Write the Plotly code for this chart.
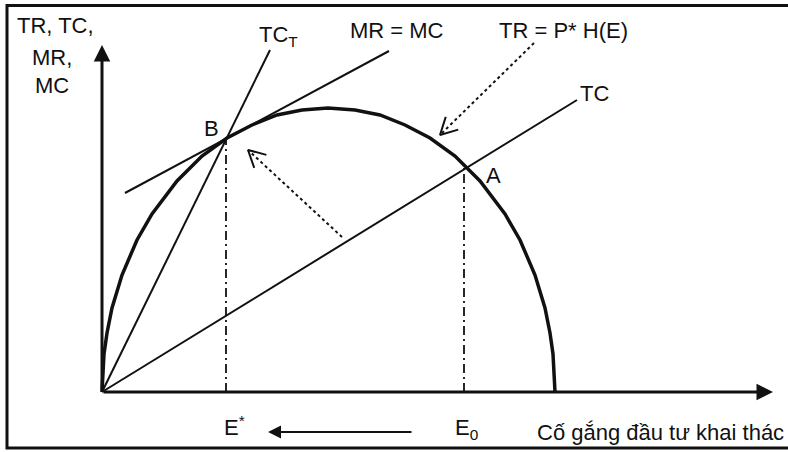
import numpy as np
import plotly.graph_objects as go

# ---- data (effort on x, money value on y; origin at 0,0) ----
tr_x = [0, 2, 5, 10, 20, 35, 50, 75, 100, 125, 150, 175, 200, 226, 253, 278, 303, 328, 353, 378, 403, 418, 433, 443, 448, 451, 453]
tr_y = [0, 38, 59, 84, 117, 152, 178, 211, 236, 254, 267, 277, 282, 284, 282, 277, 267, 254, 236, 211, 178, 152, 117, 84, 59, 38, 0]

tc_x = [0, 475]
tc_y = [0, 292]
tct_x = [0, 168]
tct_y = [0, 342]
mrmc_x = [23, 287]
mrmc_y = [199, 341]

e_star, b_value = 124, 252
e_zero, a_value = 362, 224

y_axis_top = 347
x_axis_end = 671

arrow_tr_tail, arrow_tr_tip = (432, 349), (338, 257)
arrow_move_tail, arrow_move_tip = (240, 155), (146, 242)
shift_tail, shift_tip, shift_level = 311, 166, -40

INK = "#111111"
FONT = dict(family="Liberation Sans, Arial, sans-serif", size=22, color=INK)

fig = go.Figure()

def line(x, y, width=2, dash=None):
    fig.add_trace(go.Scatter(x=x, y=y, mode="lines", hoverinfo="skip",
                             line=dict(color=INK, width=width, dash=dash)))

# curves and lines
line(tr_x, tr_y, width=3.5)
line(tc_x, tc_y)
line(tct_x, tct_y)
line(mrmc_x, mrmc_y)
line([e_star, e_star], [0, b_value], width=1.8, dash="9px,4px,2px,4px")
line([e_zero, e_zero], [0, a_value], width=1.8, dash="9px,4px,2px,4px")

# dotted arrows with open V heads
def dotted_arrow(tail, tip, wing=19, half_angle=28):
    line([tail[0], tip[0]], [tail[1], tip[1]], width=2, dash="dot")
    d = np.array(tail, float) - np.array(tip, float)
    ang = np.arctan2(d[1], d[0])
    pts = []
    for s in (1, -1):
        a = ang + s * np.radians(half_angle)
        pts.append((tip[0] + wing * np.cos(a), tip[1] + wing * np.sin(a)))
    line([pts[0][0], tip[0], pts[1][0]], [pts[0][1], tip[1], pts[1][1]], width=2)

dotted_arrow(arrow_tr_tail, arrow_tr_tip)
dotted_arrow(arrow_move_tail, arrow_move_tip)

annotations = []
# axes with filled arrowheads
annotations.append(dict(x=0, y=y_axis_top, ax=0, ay=0, xref="x", yref="y", axref="x", ayref="y",
                        text="", showarrow=True, arrowhead=2, arrowsize=1.1, arrowwidth=3, arrowcolor=INK))
annotations.append(dict(x=x_axis_end, y=0, ax=0, ay=0, xref="x", yref="y", axref="x", ayref="y",
                        text="", showarrow=True, arrowhead=2, arrowsize=1.1, arrowwidth=3, arrowcolor=INK))
# E0 -> E* arrow
annotations.append(dict(x=shift_tip, y=shift_level, ax=shift_tail, ay=shift_level, xref="x", yref="y",
                        axref="x", ayref="y", text="", showarrow=True, arrowhead=2, arrowsize=1.3,
                        arrowwidth=2, arrowcolor=INK))

def label(text, x, y, xanchor="center"):
    annotations.append(dict(x=x, y=y, xref="x", yref="y", text=text, showarrow=False,
                            xanchor=xanchor, yanchor="middle", font=FONT))

label("TR, TC,", -47, 367)
label("MR,", -50, 335)
label("MC", -50, 307)
label("TC<sub>T</sub>", 155, 356, "left")
label("MR = MC", 295, 362)
label("TR = P* H(E)", 461, 362)
label("TC", 492, 299)
label("A", 391, 217)
label("B", 109, 264)
label("E<sup>*</sup>", 120, -34, "left")
label("E<sub>0</sub>", 351, -37, "left")
label("Cố gắng đầu tư khai thác", 433, -40, "left")

fig.update_layout(
    width=788, height=452,
    margin=dict(l=0, r=0, t=0, b=0),
    paper_bgcolor="white", plot_bgcolor="white",
    showlegend=False,
    xaxis=dict(range=[-102, 686], visible=False, fixedrange=True),
    yaxis=dict(range=[-60, 392], visible=False, fixedrange=True),
    annotations=annotations,
    shapes=[dict(type="rect", xref="paper", yref="paper",
                 x0=7 / 788, x1=1.05, y0=1 - 448 / 452, y1=1 - 5.5 / 452,
                 line=dict(color=INK, width=3), layer="above")],
)

fig.write_html("out.html", config={"displayModeBar": False},
               post_script="document.body.style.margin='0';document.body.style.overflow='hidden';")
